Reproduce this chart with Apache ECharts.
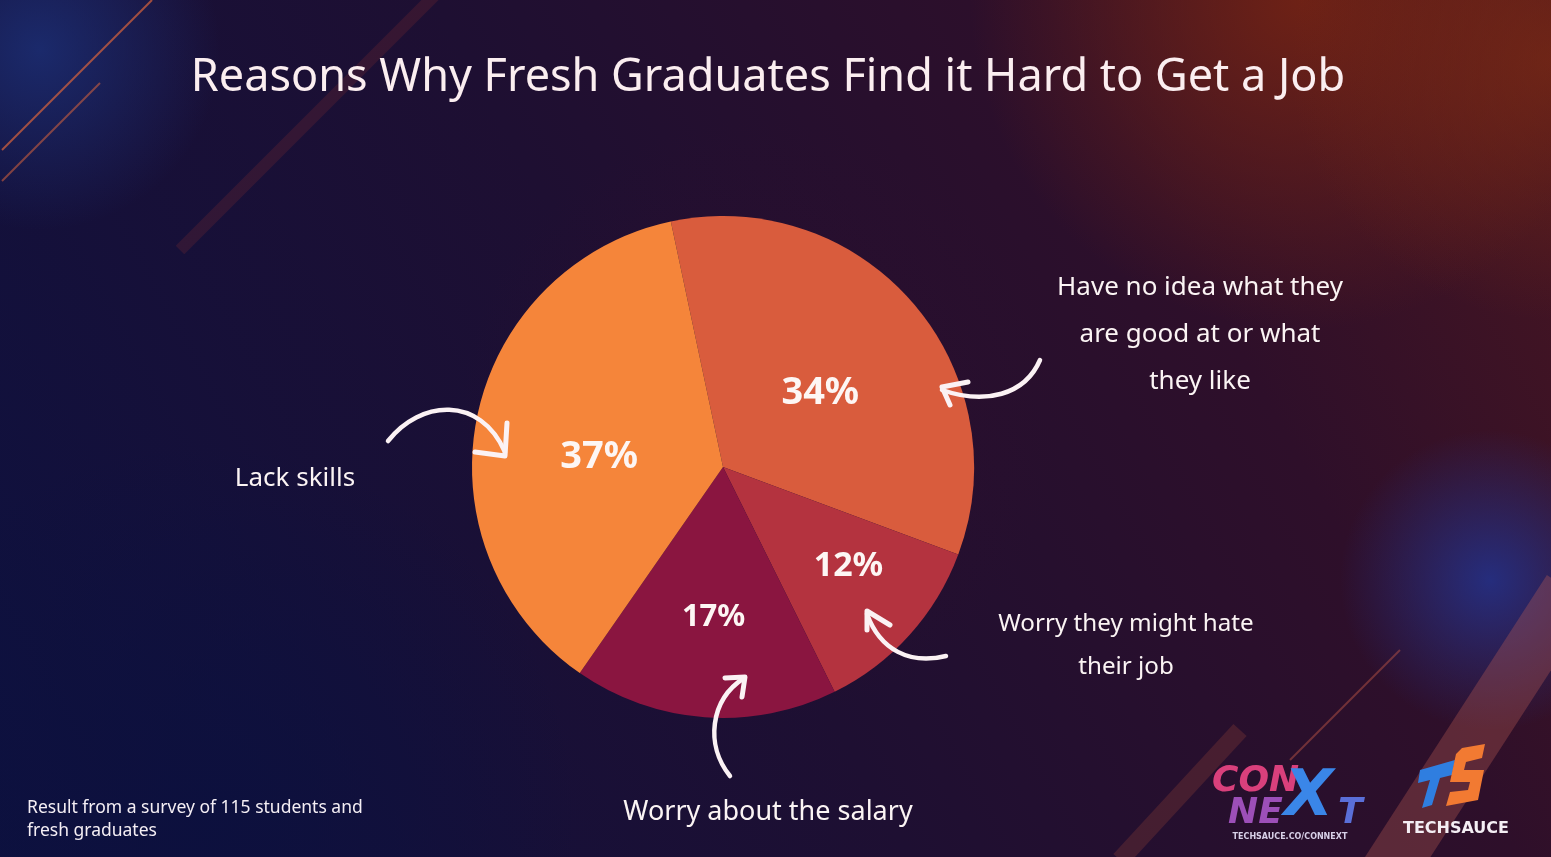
<!DOCTYPE html>
<html>
<head>
<meta charset="utf-8">
<script src="https://cdn.jsdelivr.net/npm/echarts@6/dist/echarts.min.js"></script>
<style>html,body{margin:0;padding:0;background:#1a0f2e;}#c{width:1551px;height:857px;}</style>
</head>
<body>
<div id="c"></div>
<script>
// ---- data ----
const categories = [
  'Have no idea what they are good at or what they like',
  'Worry they might hate their job',
  'Worry about the salary',
  'Lack skills'
];
const values = [34, 12, 17, 37];
const titleText = 'Reasons Why Fresh Graduates Find it Hard to Get a Job';
const footnote = ['Result from a survey of 115 students and', 'fresh graduates'];
const annotationLines = [
  ['Have no idea what they', 'are good at or what', 'they like'],
  ['Worry they might hate', 'their job'],
  ['Worry about the salary'],
  ['Lack skills']
];

// ---- styles ----
const sliceColors = ['#d95c3d', '#b4333f', '#8a1540', '#f5853a'];
const labelOffsets = [[0, 10], [30, 13], [0, 22], [2, 16]];
const labelSizes = [38, 34, 31, 38];
const FONT = '"Noto Sans", "Open Sans", sans-serif';

const chart = echarts.init(document.getElementById('c'), null, {renderer: 'canvas'});

const pieData = categories.map((name, i) => ({
  name: name,
  value: values[i],
  itemStyle: {color: sliceColors[i]},
  label: {offset: labelOffsets[i], fontSize: labelSizes[i]}
}));

// annotation text positions (centre x, first-line y, line height)
const annPos = [[1200, 288, 47], [1126, 624, 43], [768, 812, 40], [295, 479, 40]];
const annSize = [26, 24.2, 27, 26];

const graphics = [];
const rg = (cx, cy, rx, ry, col) => ({type: 'ellipse', silent: true, z: -10, shape: {cx, cy, rx, ry},
  style: {fill: new echarts.graphic.RadialGradient(0.5, 0.5, 0.5, [{offset: 0, color: col}, {offset: 1, color: col.replace(/[\d.]+\)$/, '0)')}])}});
// background blobs
graphics.push(rg(1300, 0, 650, 330, 'rgba(115,35,20,0.9)'));
graphics.push(rg(1550, 60, 300, 260, 'rgba(130,45,18,0.6)'));
graphics.push(rg(40, 50, 180, 240, 'rgba(28,48,120,0.8)'));
graphics.push(rg(1490, 580, 170, 150, 'rgba(35,50,140,0.85)'));
graphics.push(rg(200, 820, 600, 380, 'rgba(12,16,62,0.9)'));
graphics.push(rg(760, 420, 500, 300, 'rgba(50,14,45,0.45)'));
// decorative diagonals
const diag = (x1, y1, x2, y2, w, c) => ({type: 'line', silent: true, z: -5, shape: {x1, y1, x2, y2}, style: {stroke: c, lineWidth: w}});
graphics.push(diag(2, 150, 152, 0, 2, 'rgba(220,100,60,0.7)'));
graphics.push(diag(2, 181, 100, 83, 2, 'rgba(220,100,60,0.55)'));
graphics.push(diag(180, 250, 440, -10, 12, 'rgba(200,70,50,0.15)'));
graphics.push(diag(1290, 760, 1400, 650, 2, 'rgba(200,90,70,0.45)'));
graphics.push(diag(1370, 900, 1570, 590, 55, 'rgba(190,95,85,0.33)'));
graphics.push(diag(1120, 860, 1240, 730, 18, 'rgba(200,90,60,0.2)'));

// title
graphics.push({type: 'text', z: 10, style: {text: titleText, x: 768, y: 78, textAlign: 'center', textVerticalAlign: 'middle',
  font: '400 45px ' + FONT, fill: '#fbeef0'}});
// footnote
footnote.forEach((t, i) => graphics.push({type: 'text', z: 10, style: {text: t, x: 27, y: 808 + i * 23, textAlign: 'left', textVerticalAlign: 'middle',
  font: '400 17.5px ' + FONT, fill: '#f4eef4'}}));
// annotations
annotationLines.forEach((lines, k) => {
  lines.forEach((t, j) => graphics.push({type: 'text', z: 10, style: {text: t, x: annPos[k][0], y: annPos[k][1] + j * annPos[k][2],
    textAlign: 'center', textVerticalAlign: 'middle', font: '400 ' + annSize[k] + 'px ' + FONT, fill: '#fbf4f4'}}));
});

// arrows
const arrow = (curve, head) => {
  graphics.push({type: 'bezierCurve', z: 20, silent: true, shape: curve, style: {stroke: '#fbf2f4', lineWidth: 4.5, fill: null, lineCap: 'round'}});
  graphics.push({type: 'polyline', z: 20, silent: true, shape: {points: head}, style: {stroke: '#fbf2f4', lineWidth: 5, fill: null, lineJoin: 'round', lineCap: 'round'}});
};
arrow({x1: 388, y1: 441, cpx1: 420, cpy1: 400, cpx2: 480, cpy2: 395, x2: 505, y2: 452}, [[475, 452], [505, 456], [507, 423]]);
arrow({x1: 1040, y1: 360, cpx1: 1025, cpy1: 395, cpx2: 985, cpy2: 405, x2: 942, y2: 390}, [[968, 382], [942, 387], [950, 405]]);
arrow({x1: 946, y1: 656, cpx1: 910, cpy1: 665, cpx2: 880, cpy2: 650, x2: 867, y2: 614}, [[867, 630], [867, 611], [890, 625]]);
arrow({x1: 730, y1: 776, cpx1: 705, cpy1: 745, cpx2: 710, cpy2: 700, x2: 744, y2: 678}, [[725, 678], [745, 677], [742, 697]]);

// logos
graphics.push({type: 'text', z: 10, style: {text: 'CON', x: 1212, y: 782, textVerticalAlign: 'middle', font: 'italic 900 36px "DejaVu Sans", sans-serif', fill: '#d9407c'}});
graphics.push({type: 'text', z: 10, style: {text: 'NE', x: 1228, y: 814, textVerticalAlign: 'middle', font: 'italic 900 36px "DejaVu Sans", sans-serif', fill: '#9c4fb8'}});
graphics.push({type: 'text', z: 10, style: {text: 'X', x: 1284, y: 798, textVerticalAlign: 'middle', font: 'italic 900 64px "DejaVu Sans", sans-serif', fill: '#3a86e8'}});
graphics.push({type: 'text', z: 10, style: {text: 'T', x: 1338, y: 814, textVerticalAlign: 'middle', font: 'italic 900 36px "DejaVu Sans", sans-serif', fill: '#5a6fd8'}});
graphics.push({type: 'text', z: 10, style: {text: 'TECHSAUCE.CO/CONNEXT', x: 1290, y: 837, textAlign: 'center', textVerticalAlign: 'middle', font: '700 8px "DejaVu Sans", sans-serif', fill: '#d8d0e8'}});
// TS mark
graphics.push({type: 'polygon', z: 10, shape: {points: [[1420, 770], [1455, 760], [1452, 775], [1440, 778], [1432, 805], [1422, 808], [1430, 780], [1418, 783]]},
  style: {fill: '#2f7ee0'}});
graphics.push({type: 'polygon', z: 10, shape: {points: [[1462, 748], [1485, 744], [1482, 758], [1466, 762], [1464, 770], [1484, 770], [1478, 800], [1446, 806], [1450, 792], [1468, 790], [1470, 782], [1450, 782], [1456, 754]]},
  style: {fill: '#f27a32'}});
graphics.push({type: 'text', z: 10, style: {text: 'TECHSAUCE', x: 1456, y: 829, textAlign: 'center', textVerticalAlign: 'middle', font: '700 16px "DejaVu Sans", sans-serif', fill: '#f4eef4'}});

chart.setOption({
  backgroundColor: new echarts.graphic.LinearGradient(0, 1, 1, 0, [
    {offset: 0, color: '#0d1140'},
    {offset: 0.45, color: '#1e0f32'},
    {offset: 0.75, color: '#2e0f2a'},
    {offset: 1, color: '#4a1620'}
  ]),
  animation: false,
  graphic: graphics,
  series: [{
    type: 'pie',
    center: [723, 467],
    radius: 251,
    startAngle: 102,
    clockwise: true,
    data: pieData,
    label: {
      show: true,
      position: 'inside',
      formatter: '{c}%',
      color: '#fdf6f4',
      fontWeight: 'bold',
      fontFamily: FONT
    },
    labelLine: {show: false},
    itemStyle: {borderWidth: 0},
    emphasis: {disabled: true}
  }]
});
</script>
</body>
</html>
